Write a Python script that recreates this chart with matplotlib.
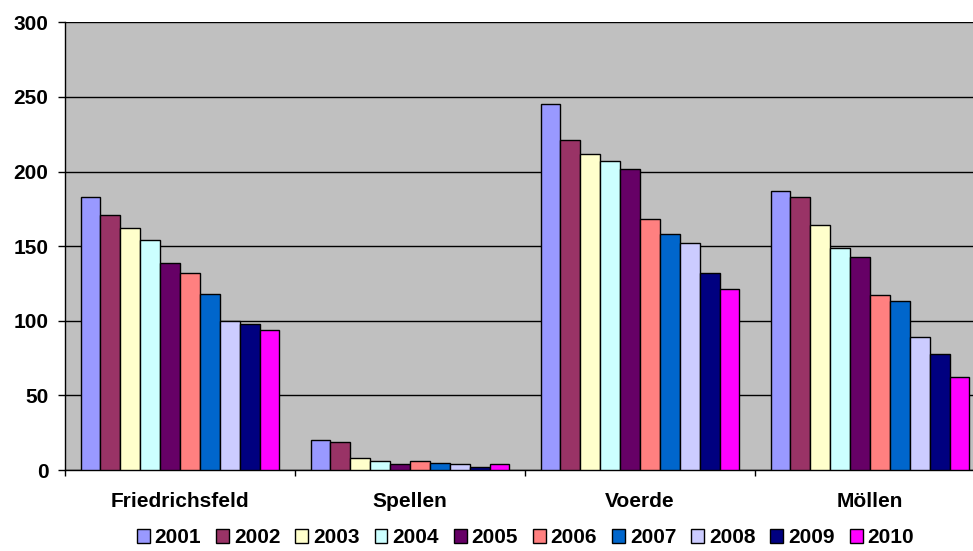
import matplotlib
matplotlib.use("Agg")
import matplotlib.pyplot as plt
from matplotlib.patches import Patch
import numpy as np

plt.rcParams['font.family'] = ['Liberation Sans', 'DejaVu Sans']

locations = ["Friedrichsfeld", "Spellen", "Voerde", "Möllen"]
years = ["2001", "2002", "2003", "2004", "2005", "2006", "2007", "2008", "2009", "2010"]

# values per year, in order of locations
v2001 = [183, 20, 245, 187]
v2002 = [171, 19, 221, 183]
v2003 = [162, 8, 212, 164]
v2004 = [154, 6, 207, 149]
v2005 = [139, 4, 202, 143]
v2006 = [132, 6, 168, 117]
v2007 = [118, 5, 158, 113]
v2008 = [100, 4, 152, 89]
v2009 = [98, 2, 132, 78]
v2010 = [94, 4, 121, 62]
series = [v2001, v2002, v2003, v2004, v2005, v2006, v2007, v2008, v2009, v2010]

colors = ["#9999FF", "#993366", "#FFFFCC", "#CCFFFF", "#660066",
          "#FF8080", "#0066CC", "#CCCCFF", "#000080", "#FF00FF"]

FS = 15

fig = plt.figure(figsize=(9.73, 5.51), dpi=100)
ax = fig.add_axes([65 / 973, 1 - 470 / 551, 920 / 973, (470 - 22.3) / 551])
ax.set_facecolor("#C0C0C0")

x = np.arange(len(locations))
bw = 0.0865
n = len(series)
for i, (vals, col) in enumerate(zip(series, colors)):
    offs = (i - (n - 1) / 2) * bw
    ax.bar(x + offs, vals, width=bw, color=col, edgecolor="black",
           linewidth=1.0, zorder=3)

ax.set_xlim(-0.5, len(locations) - 0.5)
ax.set_ylim(0, 300)
ax.set_yticks(np.arange(0, 301, 50))
ax.yaxis.grid(True, color="black", linewidth=1.0, zorder=0)
ax.set_axisbelow(True)

# category boundaries as major ticks, names as minor ticks
ax.set_xticks(np.arange(-0.5, len(locations), 1.0))
ax.set_xticklabels([])
ax.set_xticks(x, minor=True)
ax.set_xticklabels(locations, minor=True, fontsize=FS, fontweight="bold")
ax.tick_params(axis="x", which="major", direction="out", length=4, width=1)
ax.tick_params(axis="x", which="minor", length=0, pad=16)
ax.tick_params(axis="y", direction="out", length=5, width=1, pad=7,
               labelsize=FS)
for lab in ax.get_yticklabels():
    lab.set_fontweight("bold")

for s in ["top", "right"]:
    ax.spines[s].set_visible(False)
for s in ["left", "bottom"]:
    ax.spines[s].set_color("black")
    ax.spines[s].set_linewidth(1.0)

handles = [Patch(facecolor=c, edgecolor="black", linewidth=1.0) for c in colors]
leg = fig.legend(handles, years, loc="center", bbox_to_anchor=(0.54, 0.024),
                 ncol=10, frameon=False, handlelength=0.62, handleheight=0.6,
                 handletextpad=0.23, columnspacing=0.72,
                 prop={"size": FS, "weight": "bold"})

fig.savefig("out.png", dpi=100, facecolor="white")
